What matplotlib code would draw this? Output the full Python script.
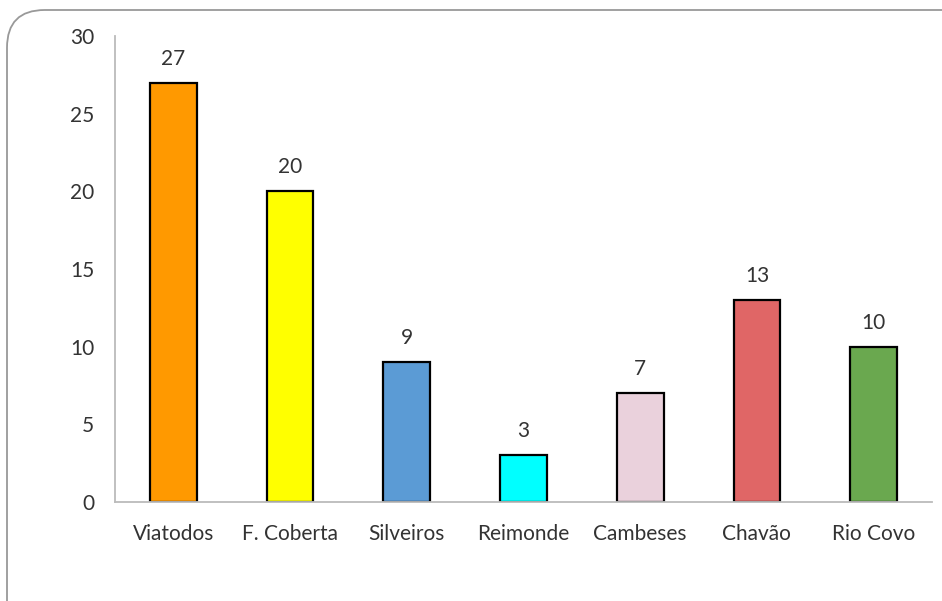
import numpy as np
import matplotlib.pyplot as plt
from matplotlib.patches import FancyBboxPatch

plt.rcParams["font.family"] = ["Lato", "DejaVu Sans"]

categories = ["Viatodos", "F. Coberta", "Silveiros", "Reimonde", "Cambeses", "Chavão", "Rio Covo"]
values = [27, 20, 9, 3, 7, 13, 10]
colors = ["#FF9900", "#FFFF00", "#5B9BD5", "#00FFFF", "#EAD1DC", "#E06666", "#6AA84F"]
yticks = [0, 5, 10, 15, 20, 25, 30]

W, H = 942, 601
fig = plt.figure(figsize=(W / 100, H / 100), dpi=100)

# rounded frame, cropped on right and bottom
frame = FancyBboxPatch((7 / W, -40 / H), (W + 40) / W, (H + 30) / H,
                       boxstyle="round,pad=0,rounding_size=0.04",
                       transform=fig.transFigure, facecolor="none",
                       edgecolor="#999999", linewidth=1.3, mutation_aspect=W / H,
                       zorder=-1)
fig.patches.append(frame)

ax = fig.add_axes([115 / W, 99 / H, 817 / W, 466 / H])
ax.set_facecolor("none")
x = np.arange(len(categories))
bars = ax.bar(x, values, width=0.4, color=colors, edgecolor="black", linewidth=1.6)
for xi, v in zip(x, values):
    ax.text(xi, v + 0.9, str(v), ha="center", va="bottom", fontsize=15, color="#333333")

ax.set_xlim(-0.5, len(categories) - 0.5)
ax.set_ylim(0, 30)
ax.set_yticks(yticks)
ax.set_xticks(x)
ax.set_xticklabels(categories)
ax.tick_params(length=0, labelsize=15, colors="#333333")
ax.tick_params(axis="x", pad=16)
ax.tick_params(axis="y", pad=15)
for s in ["top", "right"]:
    ax.spines[s].set_visible(False)
for s in ["left", "bottom"]:
    ax.spines[s].set_color("#BBBBBB")
    ax.spines[s].set_linewidth(1.3)

fig.savefig("out.png", dpi=100)
